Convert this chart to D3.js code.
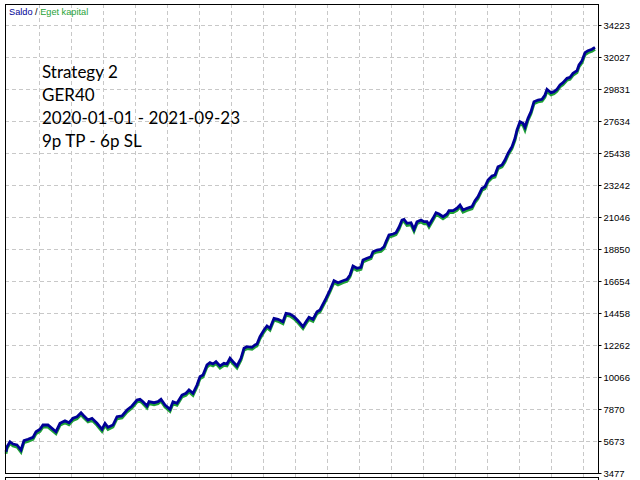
<!DOCTYPE html>
<html>
<head>
<meta charset="utf-8">
<script src="https://cdn.jsdelivr.net/npm/d3@7"></script>
<style>
  html, body { margin: 0; padding: 0; background: #fff; }
  svg { display: block; }
</style>
</head>
<body>
<div id="chart"></div>
<script>
// trade number for each sampled point
const trades = [
  1, 2, 5, 8, 12, 16, 19, 23, 28, 31,
  35, 38, 43, 47, 51, 55, 60, 64, 68, 72,
  76, 78, 83, 87, 92, 97, 100, 103, 108, 112,
  117, 122, 127, 132, 135, 138, 142, 144, 149, 153,
  156, 160, 165, 168, 172, 177, 181, 184, 188, 192,
  195, 198, 202, 205, 208, 211, 215, 219, 222, 225,
  228, 232, 236, 239, 242, 247, 250, 252, 255, 259,
  262, 265, 269, 273, 278, 281, 285, 289, 293, 298,
  301, 304, 308, 312, 315, 321, 325, 329, 333, 338,
  342, 345, 348, 352, 356, 358, 362, 366, 368, 372,
  376, 379, 381, 384, 388, 391, 394, 397, 399, 402,
  406, 409, 412, 416, 419, 422, 424, 428, 431, 434,
  438, 442, 444, 448, 452, 455, 458, 462, 467, 470,
  473, 477, 480, 483, 487, 490, 493, 497, 500, 503,
  507, 510, 512, 515, 518, 520, 523, 526, 529, 533,
  537, 540, 542, 546, 549, 552, 555, 558, 562, 565,
  568, 572, 574, 577, 580, 583, 587, 590
];

// Saldo (balance)
const balance = [
  4939, 5282, 5625, 5467, 5399, 5055, 5694, 5790, 5927, 6311,
  6476, 6771, 6771, 6545, 6311, 6888, 7066, 6929, 7231, 7341,
  7615, 7458, 7114, 7231, 6888, 6476, 6888, 6613, 6771, 7341,
  7389, 7801, 8075, 8487, 8535, 8370, 8075, 8370, 8302, 8370,
  8535, 8144, 7849, 8370, 8260, 8830, 8947, 9173, 8947, 9516,
  10086, 10203, 10889, 11047, 10958, 11115, 10820, 11006, 10958, 11349,
  11115, 10820, 11349, 12035, 12145, 12104, 12262, 12330, 12831, 13291,
  13566, 13408, 14094, 14025, 13861, 14437, 14389, 14204, 13929, 13518,
  13861, 14163, 14025, 14547, 14664, 15467, 16036, 16675, 16537, 16675,
  16771, 17066, 17683, 17525, 17594, 18095, 18212, 18322, 18665, 18781,
  18830, 19008, 19351, 19811, 19880, 19969, 20339, 20840, 20888, 20614,
  20655, 20202, 20724, 20840, 20724, 20724, 20497, 20957, 21341, 21252,
  21067, 21252, 21479, 21479, 21643, 21870, 21527, 21643, 21753, 22165,
  22440, 23016, 23126, 23586, 23860, 23929, 24498, 24615, 24958, 25418,
  25871, 26447, 27017, 27587, 27477, 27202, 27820, 28273, 28959, 29076,
  29124, 29419, 29810, 29577, 29646, 29810, 30105, 30263, 30565, 30634,
  30908, 31087, 31478, 31773, 32322, 32460, 32556, 32693
];

// Eget kapital (equity)
const equity = [
  4800, 5150, 5500, 5330, 5260, 4900, 5560, 5650, 5790, 6170,
  6330, 6640, 6630, 6400, 6170, 6750, 6930, 6790, 7090, 7200,
  7480, 7320, 6980, 7090, 6750, 6330, 6750, 6470, 6630, 7200,
  7250, 7660, 7940, 8350, 8400, 8230, 7930, 8230, 8160, 8230,
  8400, 8000, 7700, 8230, 8120, 8690, 8810, 9040, 8800, 9380,
  9950, 10070, 10750, 10910, 10820, 10980, 10680, 10870, 10820, 11210,
  10970, 10680, 11210, 11900, 12010, 11960, 12120, 12190, 12690, 13150,
  13430, 13270, 13960, 13890, 13720, 14300, 14250, 14060, 13790, 13380,
  13720, 14020, 13880, 14410, 14530, 15330, 15900, 16540, 16390, 16540,
  16630, 16930, 17550, 17380, 17450, 17960, 18080, 18180, 18530, 18640,
  18690, 18870, 19210, 19670, 19740, 19830, 20200, 20700, 20750, 20470,
  20510, 20060, 20590, 20700, 20580, 20590, 20350, 20820, 21200, 21110,
  20920, 21110, 21340, 21340, 21500, 21730, 21380, 21500, 21610, 22030,
  22300, 22880, 22990, 23450, 23720, 23790, 24360, 24480, 24820, 25280,
  25730, 26310, 26880, 27450, 27330, 27000, 27680, 28130, 28820, 28940,
  28990, 29280, 29670, 29430, 29510, 29670, 29970, 30120, 30430, 30500,
  30770, 30950, 31340, 31630, 32180, 32320, 32420, 32560
];

const yTicks = [3477, 5673, 7870, 10066, 12262, 14458, 16654, 18850,
  21046, 23242, 25438, 27634, 29831, 32027, 34223];
const yTickLabels = ["3477", "5673", "7870", "10066", "12262", "14458", "16654", "18850",
  "21046", "23242", "25438", "27634", "29831", "32027", "34223"];
const xGrid = d3.range(34, 594, 32);

const legendItems = [
  { text: "Saldo", color: "#000096" },
  { text: " / ", color: "#000000" },
  { text: "Eget kapital", color: "#1fa236" }
];
const infoLines = ["Strategy 2", "GER40", "2020-01-01 - 2021-09-23", "9p TP - 6p SL"];

const width = 640, height = 480;
const plot = { left: 5, right: 598, top: 4, bottom: 473 };

const svg = d3.select("#chart")
  .append("svg")
  .attr("width", width)
  .attr("height", height);

const x = d3.scaleLinear().domain([0, 593]).range([plot.left, plot.right]);
const y = d3.scaleLinear().domain([3477, 34223]).range([473, 25]);

// grid
const grid = svg.append("g")
  .attr("stroke", "#c8c8c8")
  .attr("stroke-width", 1)
  .attr("stroke-dasharray", "4,3")
  .attr("shape-rendering", "crispEdges");

grid.selectAll(".hgrid")
  .data(yTicks)
  .enter()
  .append("line")
  .attr("class", "hgrid")
  .attr("x1", plot.left)
  .attr("x2", plot.right)
  .attr("y1", d => Math.round(y(d)) + 0.5)
  .attr("y2", d => Math.round(y(d)) + 0.5);

grid.selectAll(".vgrid")
  .data(xGrid)
  .enter()
  .append("line")
  .attr("class", "vgrid")
  .attr("x1", d => Math.round(x(d)) + 0.5)
  .attr("x2", d => Math.round(x(d)) + 0.5)
  .attr("y1", plot.top)
  .attr("y2", height);

// lines
const pts = (vals) => vals.map((v, i) => [trades[i], v]);
const line = d3.line().x(d => x(d[0])).y(d => y(d[1]));

svg.append("path")
  .attr("d", line(pts(equity)))
  .attr("fill", "none")
  .attr("stroke", "#1fa236")
  .attr("stroke-width", 2.8)
  .attr("stroke-linejoin", "miter");

svg.append("path")
  .attr("d", line(pts(balance)))
  .attr("fill", "none")
  .attr("stroke", "#000096")
  .attr("stroke-width", 2.8)
  .attr("stroke-linejoin", "miter");

// frame
const frame = svg.append("g")
  .attr("stroke", "#000")
  .attr("fill", "none")
  .attr("shape-rendering", "crispEdges");
frame.append("rect")
  .attr("x", plot.left + 0.5)
  .attr("y", plot.top + 0.5)
  .attr("width", plot.right - plot.left)
  .attr("height", plot.bottom - plot.top);
frame.append("rect")
  .attr("x", plot.left + 0.5)
  .attr("y", 477.5)
  .attr("width", plot.right - plot.left)
  .attr("height", 20);

// right axis
const yAxis = d3.axisRight(y)
  .tickValues(yTicks)
  .tickFormat((d, i) => yTickLabels[i])
  .tickSize(3)
  .tickPadding(2);

svg.append("g")
  .attr("transform", `translate(${plot.right + 0.5},0)`)
  .call(yAxis)
  .call(g => g.select(".domain").remove())
  .call(g => g.selectAll("text")
    .attr("font-family", "'Liberation Sans', Arial, sans-serif")
    .attr("font-size", 9.5)
    .attr("fill", "#000"))
  .call(g => g.selectAll("line").attr("stroke", "#000"));

// legend
const legend = svg.append("text")
  .attr("x", 9)
  .attr("y", 15)
  .attr("font-family", "'Liberation Sans', Arial, sans-serif")
  .attr("font-size", 9.2)
  .attr("xml:space", "preserve");
legend.selectAll("tspan")
  .data(legendItems)
  .enter()
  .append("tspan")
  .attr("fill", d => d.color)
  .text(d => d.text);

// info text
svg.append("g")
  .selectAll("text")
  .data(infoLines)
  .enter()
  .append("text")
  .attr("x", 42)
  .attr("y", (d, i) => 78 + i * 23)
  .attr("font-family", "Lato, 'Open Sans', sans-serif")
  .attr("font-size", 17)
  .attr("fill", "#000")
  .text(d => d);
</script>
</body>
</html>
